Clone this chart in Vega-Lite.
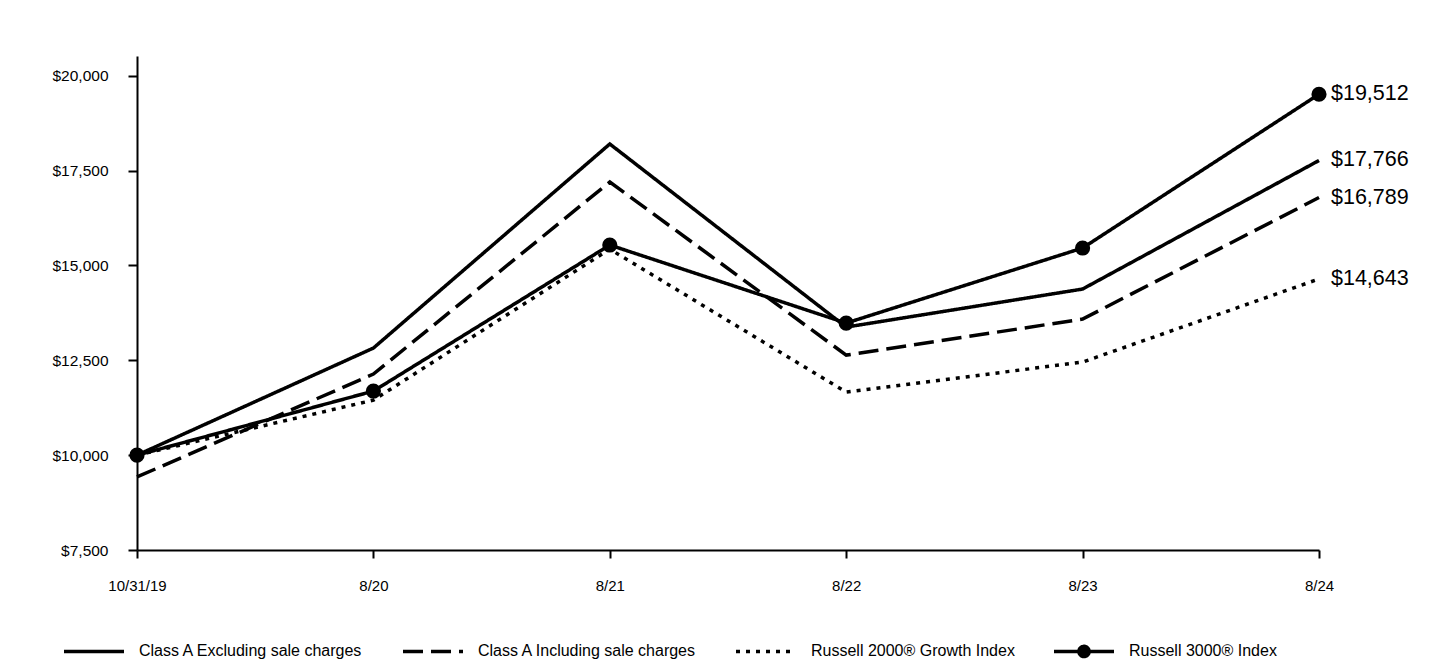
{
  "$schema": "https://vega.github.io/schema/vega-lite/v6.json",
  "autosize": "none",
  "width": 1182,
  "height": 494,
  "padding": {"left": 137, "top": 56, "right": 121, "bottom": 110},
  "background": "white",
  "config": {
    "font": "Liberation Sans",
    "view": {"stroke": null},
    "axis": {"labelFont": "Liberation Sans", "labelColor": "black", "domainColor": "black", "tickColor": "black", "domainWidth": 2, "tickWidth": 2, "grid": false, "title": null}
  },
  "data": {
    "values": [
      {"date": "10/31/19", "series": "Class A Excluding sale charges", "value": 10000},
      {"date": "8/20", "series": "Class A Excluding sale charges", "value": 12822},
      {"date": "8/21", "series": "Class A Excluding sale charges", "value": 18201},
      {"date": "8/22", "series": "Class A Excluding sale charges", "value": 13375},
      {"date": "8/23", "series": "Class A Excluding sale charges", "value": 14378},
      {"date": "8/24", "series": "Class A Excluding sale charges", "value": 17766},
      {"date": "10/31/19", "series": "Class A Including sale charges", "value": 9425},
      {"date": "8/20", "series": "Class A Including sale charges", "value": 12136},
      {"date": "8/21", "series": "Class A Including sale charges", "value": 17199},
      {"date": "8/22", "series": "Class A Including sale charges", "value": 12637},
      {"date": "8/23", "series": "Class A Including sale charges", "value": 13586},
      {"date": "8/24", "series": "Class A Including sale charges", "value": 16789},
      {"date": "10/31/19", "series": "Russell 2000® Growth Index", "value": 10000},
      {"date": "8/20", "series": "Russell 2000® Growth Index", "value": 11450},
      {"date": "8/21", "series": "Russell 2000® Growth Index", "value": 15430},
      {"date": "8/22", "series": "Russell 2000® Growth Index", "value": 11661},
      {"date": "8/23", "series": "Russell 2000® Growth Index", "value": 12453},
      {"date": "8/24", "series": "Russell 2000® Growth Index", "value": 14643},
      {"date": "10/31/19", "series": "Russell 3000® Index", "value": 10000},
      {"date": "8/20", "series": "Russell 3000® Index", "value": 11688},
      {"date": "8/21", "series": "Russell 3000® Index", "value": 15538},
      {"date": "8/22", "series": "Russell 3000® Index", "value": 13481},
      {"date": "8/23", "series": "Russell 3000® Index", "value": 15459},
      {"date": "8/24", "series": "Russell 3000® Index", "value": 19512}
    ]
  },
  "encoding": {
    "x": {"field": "date", "type": "ordinal", "sort": ["10/31/19", "8/20", "8/21", "8/22", "8/23", "8/24"],
      "scale": {"type": "point", "padding": 0},
      "axis": {"labelAngle": 0, "tickSize": 8, "labelPadding": 27, "labelBaseline": "middle", "labelAlign": "center", "labelFontSize": 15}},
    "y": {"field": "value", "type": "quantitative",
      "scale": {"domain": [7500, 20520], "nice": false, "zero": false},
      "axis": {"values": [7500, 10000, 12500, 15000, 17500, 20000], "format": "$,.0f", "tickSize": 9, "labelPadding": 20, "labelFontSize": 15.5}}
  },
  "layer": [
    {
      "mark": {"type": "line", "color": "black", "strokeWidth": 3.5},
      "encoding": {
        "detail": {"field": "series"},
        "strokeDash": {"field": "series", "type": "nominal",
          "scale": {"domain": ["Class A Excluding sale charges", "Class A Including sale charges", "Russell 2000® Growth Index", "Russell 3000® Index"],
            "range": [[1, 0], [20, 8], [4, 6], [1, 0]]},
          "legend": {
            "orient": "none", "legendX": -75, "legendY": 563, "direction": "horizontal", "title": null,
            "symbolType": "stroke", "symbolSize": 3600, "symbolStrokeWidth": 3.5, "symbolStrokeColor": "black",
            "labelFontSize": 16, "labelFont": "Liberation Sans", "labelColor": "black", "labelOffset": 13, "columnPadding": 32,
            "labelLimit": 400,
            "encode": {
              "symbols": {"update": {
                "shape": {"signal": "datum.value === 'Russell 3000® Index' ? 'M-1,0L1,0M-0.17,0A0.17,0.17,0,1,1,0.17,0A0.17,0.17,0,1,1,-0.17,0' : 'M-1,-0.17M-1,0L1,0M1,0.17'"},
                "fill": {"signal": "datum.value === 'Russell 3000® Index' ? 'black' : 'transparent'"},
                "stroke": {"value": "black"},
                "strokeWidth": {"value": 3.5},
                "opacity": {"value": 1},
                "strokeDash": {"signal": "datum.value === 'Class A Including sale charges' ? [14, 5] : datum.value === 'Russell 2000® Growth Index' ? [4, 6] : [1, 0]"}
              }}
            }
          }}
      }
    },
    {
      "transform": [{"filter": "datum.series === 'Russell 3000® Index'"}],
      "mark": {"type": "point", "filled": true, "color": "black", "size": 230, "opacity": 1}
    },
    {
      "transform": [{"filter": "datum.date === '8/24'"}],
      "mark": {"type": "text", "align": "left", "baseline": "middle", "dx": 12, "fontSize": 21.5, "font": "Liberation Sans", "color": "black"},
      "encoding": {"text": {"field": "value", "type": "quantitative", "format": "$,.0f"}}
    }
  ]
}
